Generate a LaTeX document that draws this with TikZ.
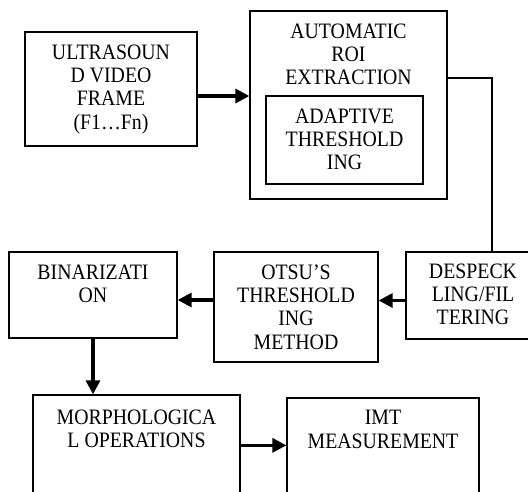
\documentclass[tikz,border=0pt]{standalone}
\usepackage{fontspec}
\setmainfont{Liberation Serif}[FakeStretch=0.9]
\usetikzlibrary{arrows.meta,positioning}

\begin{document}
\begin{tikzpicture}[x=1pt,y=-1pt,
    stage/.style={draw=black,line width=1.3pt,rectangle,inner sep=0pt},
    caption/.style={align=center,inner sep=0pt,font=\fontsize{22}{23.3}\selectfont},
    flow/.style={-{Triangle[length=14pt,width=14pt]},line width=3.2pt},
    link/.style={line width=1.3pt}]
    \useasboundingbox (0,0) rectangle (528,491);
    \clip (0,0) rectangle (528,491);
    % boxes
    \node[stage,minimum width=172pt,minimum height=114pt] (frame) at (111,89) {};
    \node[stage,minimum width=197pt,minimum height=188pt] (roi) at (348.5,105) {};
    \node[stage,minimum width=157pt,minimum height=88pt] (adapt) at (344.5,140) {};
    \node[stage,minimum width=134pt,minimum height=87pt] (despeck) at (473,295.5) {};
    \node[stage,minimum width=164pt,minimum height=110pt] (otsu) at (296,307) {};
    \node[stage,minimum width=168pt,minimum height=86pt] (binar) at (93,295) {};
    \node[stage,minimum width=207pt,minimum height=125pt] (morph) at (136.5,457.5) {};
    \node[stage,minimum width=192pt,minimum height=122pt] (imt) at (383,459) {};
    % texts, hung from the top of each box
    \node[caption,below=13pt of frame.north] (frame-text) {ULTRASOUN\\D VIDEO\\FRAME\\(F1\dots Fn)};
    \node[caption,below=13pt of roi.north] (roi-text) {AUTOMATIC\\ROI\\EXTRACTION};
    \node[caption,below=13pt of adapt.north] (adapt-text) {ADAPTIVE\\THRESHOLD\\ING};
    \node[caption,below=12pt of despeck.north] (despeck-text) {DESPECK\\LING/FIL\\TERING};
    \node[caption,below=13pt of otsu.north] (otsu-text) {OTSU'S\\THRESHOLD\\ING\\METHOD};
    \node[caption,below=13pt of binar.north] (binar-text) {BINARIZATI\\ON};
    \node[caption,below=15pt of morph.north] (morph-text) {MORPHOLOGICA\\L OPERATIONS};
    \node[caption,below=13pt of imt.north] (imt-text) {IMT\\MEASUREMENT};
    % connectors
    \draw[flow] ([yshift=-7pt]frame.east) -- ([yshift=-7pt]frame.east -| roi.west);
    \draw[link] ([yshift=27pt]roi.east) -| ([xshift=19pt]despeck.north);
    \draw[flow] ([yshift=-5pt]despeck.west) -- ([yshift=-5pt]despeck.west -| otsu.east);
    \draw[flow] ([yshift=-5pt]binar.east -| otsu.west) -- ([yshift=-5pt]binar.east);
    \draw[flow] (binar.south) -- (binar.south |- morph.north);
    \draw[flow] ([yshift=-51pt]morph.north east) -- ([yshift=-51pt]morph.north east -| imt.west);
\end{tikzpicture}
\end{document}
